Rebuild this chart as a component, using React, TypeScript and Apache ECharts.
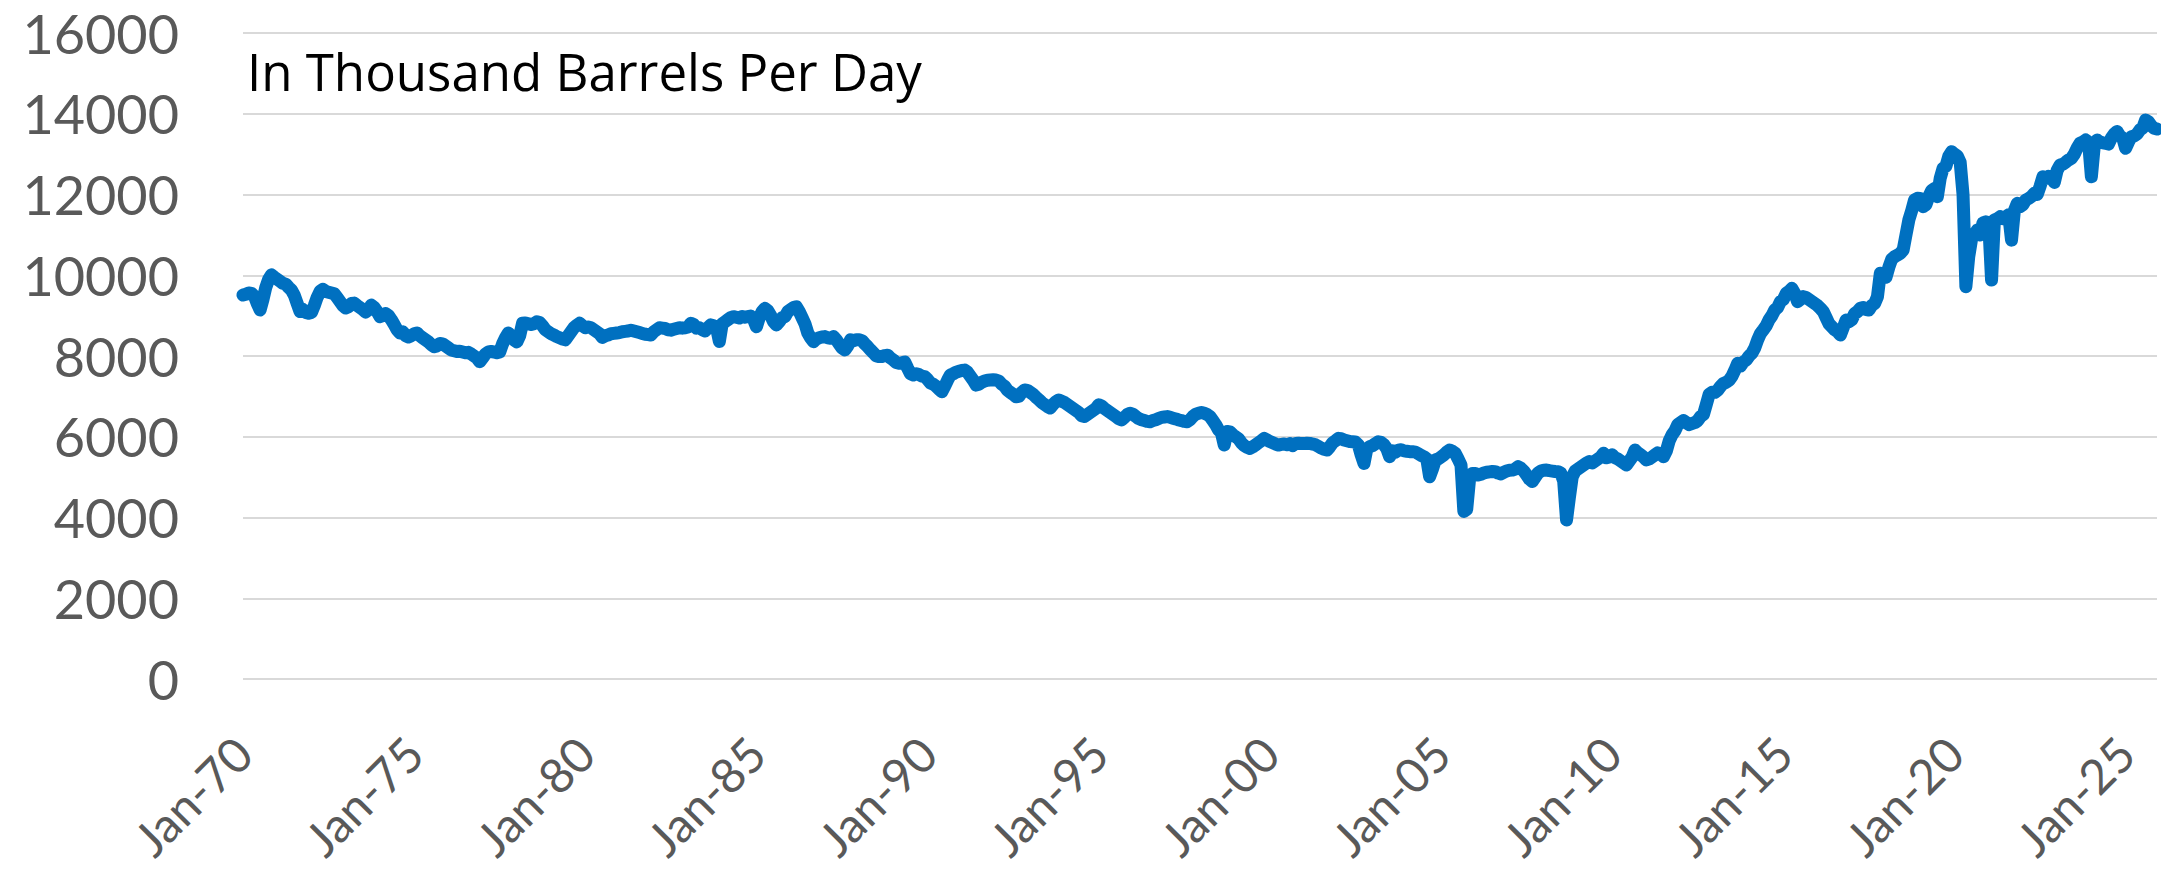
import React, { useEffect, useRef } from "react";
import * as echarts from "echarts";

// US crude oil field production, thousand barrels per day, monthly (Jan 1970 – Dec 2025)
const firstYear = 1970;
const lastYear = 2025;
const monthNames = ["Jan", "Feb", "Mar", "Apr", "May", "Jun", "Jul", "Aug", "Sep", "Oct", "Nov", "Dec"];

const prod1970s = [
  9510, 9530, 9560, 9550, 9480, 9300, 9140, 9400, 9700, 9900, 10010, 9950,
  9900, 9850, 9800, 9780, 9700, 9630, 9500, 9300, 9100, 9150, 9080, 9060,
  9080, 9250, 9450, 9600, 9650, 9600, 9580, 9560, 9540, 9450, 9350, 9250,
  9190, 9220, 9300, 9310, 9250, 9200, 9150, 9090, 9150, 9260, 9200, 9100,
  8975, 9000, 9050, 9000, 8900, 8780, 8650, 8570, 8600, 8500, 8470, 8500,
  8550, 8570, 8500, 8450, 8400, 8350, 8280, 8230, 8250, 8310, 8300, 8250,
  8200, 8150, 8130, 8110, 8120, 8100, 8080, 8090, 8050, 8000, 7950, 7860,
  7950, 8050, 8100, 8110, 8100, 8080, 8100, 8300, 8450, 8570, 8500, 8400,
  8350, 8500, 8810, 8820, 8800, 8780, 8800, 8850, 8830, 8750, 8650, 8600,
  8550, 8520, 8480, 8450, 8420, 8400, 8500, 8600, 8700, 8760, 8810, 8750,
];

const prod1980s = [
  8700, 8720, 8700, 8650, 8600, 8550, 8460, 8500, 8520, 8550, 8560, 8570,
  8580, 8600, 8610, 8620, 8640, 8620, 8600, 8580, 8560, 8540, 8530, 8520,
  8600, 8650, 8700, 8690, 8680, 8650, 8640, 8660, 8680, 8700, 8690, 8700,
  8720, 8810, 8780, 8690, 8700, 8650, 8620, 8700, 8770, 8750, 8700, 8360,
  8800, 8850, 8900, 8950, 8975, 8960, 8940, 8980, 8960, 8975, 8990, 8900,
  8725, 8950, 9100, 9180, 9120, 9000, 8850, 8770, 8850, 8950, 8975, 9100,
  9150, 9200, 9220, 9100, 8950, 8800, 8570, 8450, 8355, 8420, 8450, 8470,
  8480, 8450, 8440, 8480, 8400, 8300, 8200, 8150, 8250, 8400, 8380, 8400,
  8400, 8380, 8300, 8230, 8150, 8080, 8000, 7985, 7990, 8010, 8020, 7950,
  7900, 7840, 7820, 7830, 7850, 7700, 7560, 7530, 7560, 7540, 7500, 7490,
];

const prod1990s = [
  7420, 7330, 7300, 7250, 7180, 7115, 7250, 7400, 7530, 7560, 7600, 7620,
  7640, 7650, 7600, 7500, 7400, 7280, 7300, 7350, 7380, 7400, 7405, 7410,
  7405, 7380, 7300, 7250, 7150, 7100, 7050, 6990, 7000, 7100, 7160, 7150,
  7100, 7050, 6980, 6920, 6850, 6800, 6750, 6710, 6800, 6870, 6910, 6880,
  6850, 6800, 6750, 6700, 6650, 6600, 6520, 6500, 6550, 6600, 6650, 6700,
  6790, 6760, 6700, 6650, 6600, 6550, 6500, 6450, 6415, 6480, 6550, 6580,
  6560, 6500, 6450, 6420, 6400, 6380, 6370, 6400, 6420, 6450, 6480, 6490,
  6500, 6480, 6460, 6440, 6415, 6400, 6380, 6370, 6420, 6500, 6560, 6580,
  6600, 6580, 6550, 6500, 6400, 6300, 6170, 6100, 5795, 6130, 6120, 6050,
  6000, 5950, 5850, 5780, 5740, 5710, 5750, 5800, 5850, 5900, 5960, 5920,
];

const prod2000s = [
  5880, 5850, 5820, 5795, 5810, 5820, 5800, 5830, 5780, 5835, 5840, 5830,
  5830, 5840, 5835, 5820, 5800, 5760, 5720, 5690, 5670, 5750, 5850, 5900,
  5960, 5950, 5920, 5900, 5880, 5875, 5870, 5800, 5550, 5340, 5700, 5755,
  5780, 5830, 5875, 5860, 5800, 5700, 5505, 5650, 5620, 5670, 5680, 5650,
  5640, 5630, 5630, 5620, 5580, 5540, 5505, 5450, 5010, 5200, 5425, 5450,
  5500, 5550, 5620, 5670, 5640, 5590, 5450, 5300, 4150, 4200, 4950, 5090,
  5090, 5050, 5070, 5100, 5120, 5130, 5140, 5135, 5100, 5080, 5120, 5150,
  5170, 5175, 5200, 5260, 5220, 5150, 5050, 4950, 4890, 5000, 5100, 5150,
  5170, 5175, 5160, 5150, 5140, 5135, 5100, 4900, 3940, 4500, 5010, 5150,
  5200, 5250, 5300, 5350, 5385, 5350, 5400, 5450, 5500, 5590, 5480, 5500,
];

const prod2010s = [
  5550, 5480, 5450, 5400, 5350, 5300, 5400, 5500, 5670, 5600, 5550, 5500,
  5425, 5450, 5500, 5550, 5600, 5580, 5505, 5650, 5900, 6050, 6150, 6300,
  6350, 6400, 6350, 6300, 6330, 6350, 6400, 6500, 6550, 6800, 7050, 7100,
  7100, 7150, 7250, 7320, 7350, 7400, 7500, 7650, 7820, 7750, 7850, 7900,
  8000, 8070, 8200, 8400, 8560, 8650, 8750, 8900, 9000, 9140, 9200, 9350,
  9400, 9550, 9600, 9675, 9550, 9345, 9400, 9470, 9450, 9400, 9350, 9300,
  9250, 9180, 9100, 8950, 8800, 8725, 8650, 8600, 8520, 8700, 8890, 8850,
  8900, 9050, 9100, 9180, 9200, 9150, 9140, 9250, 9300, 9470, 10050, 10000,
  9950, 10200, 10400, 10460, 10500, 10540, 10625, 11000, 11370, 11600, 11865, 11905,
  11900, 11700, 11750, 11950, 12100, 12150, 11945, 12400, 12650, 12700, 12950, 13060,
];

const prod2020s = [
  13000, 12950, 12800, 12000, 9715, 10460, 10900, 11000, 11120, 11000, 11300, 11325,
  11300, 9880, 11370, 11400, 11450, 11400, 11450, 11500, 10870, 11600, 11780, 11700,
  11750, 11865, 11900, 11950, 12030, 12000, 12200, 12440, 12400, 12450, 12440, 12300,
  12600, 12730, 12750, 12800, 12855, 12900, 13000, 13150, 13270, 13300, 13350, 13300,
  12440, 13200, 13350, 13300, 13280, 13270, 13250, 13400, 13500, 13560, 13450, 13400,
  13145, 13300, 13430, 13450, 13500, 13600, 13650, 13845, 13800, 13700, 13640, 13620,
];

const yTicks = { min: 0, max: 16000, interval: 2000 };
const titleText = "In Thousand Barrels Per Day";

const categories: string[] = [];
for (let y = firstYear; y <= lastYear; y++) {
  for (const m of monthNames) {
    categories.push(`${m}-${String(y % 100).padStart(2, "0")}`);
  }
}
const production = [...prod1970s, ...prod1980s, ...prod1990s, ...prod2000s, ...prod2010s, ...prod2020s];

const FONT = "'Open Sans', 'DejaVu Sans', sans-serif";
const AXIS_FONT = "Lato, 'Open Sans', sans-serif";

export default function App() {
  const ref = useRef<HTMLDivElement>(null);
  useEffect(() => {
    if (!ref.current) return;
    const chart = echarts.init(ref.current, undefined, { renderer: "svg" });
    chart.setOption({
      animation: false,
      backgroundColor: "#ffffff",
      grid: { left: 243, right: 4, top: 33, bottom: 191, containLabel: false },
      xAxis: {
        type: "category",
        data: categories,
        boundaryGap: false,
        axisLine: { show: false },
        axisTick: { show: false },
        splitLine: { show: false },
        axisLabel: {
          interval: 59,
          rotate: 45,
          margin: 66,
          color: "#595959",
          fontSize: 48,
          lineHeight: 48,
          fontFamily: AXIS_FONT,
        },
      },
      yAxis: {
        type: "value",
        min: yTicks.min,
        max: yTicks.max,
        interval: yTicks.interval,
        axisLine: { show: false },
        axisTick: { show: false },
        splitLine: { show: true, lineStyle: { color: "#d9d9d9", width: 2 } },
        axisLabel: {
          margin: 64,
          color: "#595959",
          fontSize: 54,
          lineHeight: 44,
          fontFamily: AXIS_FONT,
          formatter: (v: number) => String(v),
        },
      },
      series: [
        {
          type: "line",
          data: production,
          symbol: "none",
          showSymbol: false,
          lineStyle: { color: "#0070C0", width: 13, join: "round", cap: "round" },
          itemStyle: { color: "#0070C0" },
        },
      ],
      graphic: [
        {
          type: "text",
          left: 247,
          top: 45,
          style: {
            text: titleText,
            font: `51px ${FONT}`,
            fill: "#000000",
          },
        },
      ],
    });
    return () => chart.dispose();
  }, []);
  return (
    <div
      ref={ref}
      style={{ position: "absolute", left: 0, top: 0, width: 2161, height: 870 }}
    />
  );
}
